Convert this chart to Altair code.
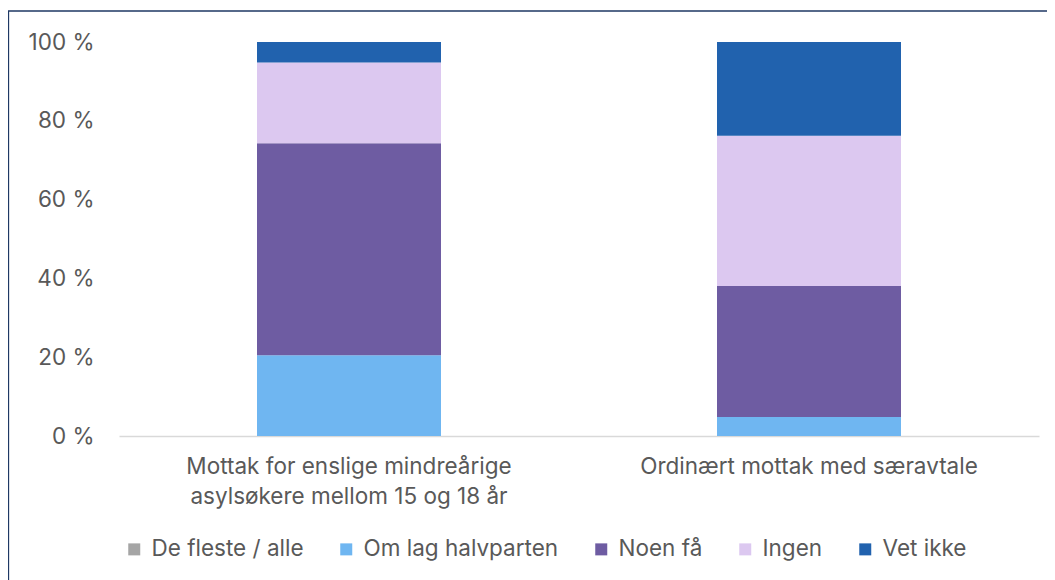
import altair as alt
import pandas as pd

categories = [
    "Mottak for enslige mindreårige asylsøkere mellom 15 og 18 år",
    "Ordinært mottak med særavtale",
]
series = ["De fleste / alle", "Om lag halvparten", "Noen få", "Ingen", "Vet ikke"]
colors = ["#a5a5a5", "#6fb6f1", "#6e5ca2", "#dcc8f0", "#2162ae"]
values = {
    "De fleste / alle": [0.0, 0.0],
    "Om lag halvparten": [20.5, 4.8],
    "Noen få": [53.8, 33.3],
    "Ingen": [20.5, 38.1],
    "Vet ikke": [5.2, 23.8],
}

rows = []
for si, s in enumerate(series):
    for ci, c in enumerate(categories):
        rows.append({"kategori": c, "serie": s, "verdi": values[s][ci], "rekke": si})
df = pd.DataFrame(rows)

FONT = "Inter"
TXT = "#595959"
FS = 22.5

bars = alt.Chart(df).mark_bar(stroke=None).encode(
    x=alt.X(
        "kategori:N",
        sort=categories,
        title=None,
        scale=alt.Scale(paddingInner=0.6, paddingOuter=0.3),
        axis=alt.Axis(
            labelAngle=0,
            labelFontSize=FS,
            labelColor=TXT,
            labelFont=FONT,
            labelPadding=19,
            labelLineHeight=30,
            labelBaseline="top",
            labelExpr="datum.label == 'Mottak for enslige mindreårige asylsøkere mellom 15 og 18 år' ? ['Mottak for enslige mindreårige', 'asylsøkere mellom 15 og 18 år'] : datum.label",
            ticks=False,
            domainColor="#d9d9d9",
            domainWidth=1.5,
            labelLimit=450,
        ),
    ),
    y=alt.Y(
        "verdi:Q",
        stack="zero",
        title=None,
        scale=alt.Scale(domain=[0, 100], nice=False),
        axis=alt.Axis(
            values=[0, 20, 40, 60, 80, 100],
            labelExpr="datum.value + ' %'",
            labelFontSize=FS,
            labelColor=TXT,
            labelFont=FONT,
            labelPadding=25,
            ticks=False,
            domain=False,
            grid=False,
        ),
    ),
    color=alt.Color(
        "serie:N",
        sort=series,
        scale=alt.Scale(domain=series, range=colors),
        legend=alt.Legend(
            title=None,
            orient="none",
            direction="horizontal",
            legendX=4,
            legendY=496,
            symbolType="square",
            symbolSize=144,
            symbolStrokeWidth=0,
            labelFontSize=FS,
            labelColor=TXT,
            labelFont=FONT,
            labelOffset=6,
            columnPadding=31,
            labelLimit=300,
        ),
    ),
    order=alt.Order("rekke:Q", sort="ascending"),
)

frame = alt.Chart(alt.Data(values=[{}])).mark_rect(
    filled=False, stroke="#1f3864", strokeWidth=1.3
).encode(
    x=alt.value(-110.5),
    x2=alt.value(960),
    y=alt.value(-31),
    y2=alt.value(600),
)

chart = (
    alt.layer(bars, frame)
    .properties(
        width=920,
        height=394,
        autosize=alt.AutoSizeParams(type="none"),
        padding={"left": 111, "top": 34, "right": 8, "bottom": 144},
    )
    .configure(background="white")
    .configure_view(stroke=None)
)

chart.save("out.html", embed_options={"renderer": "svg", "actions": False})
